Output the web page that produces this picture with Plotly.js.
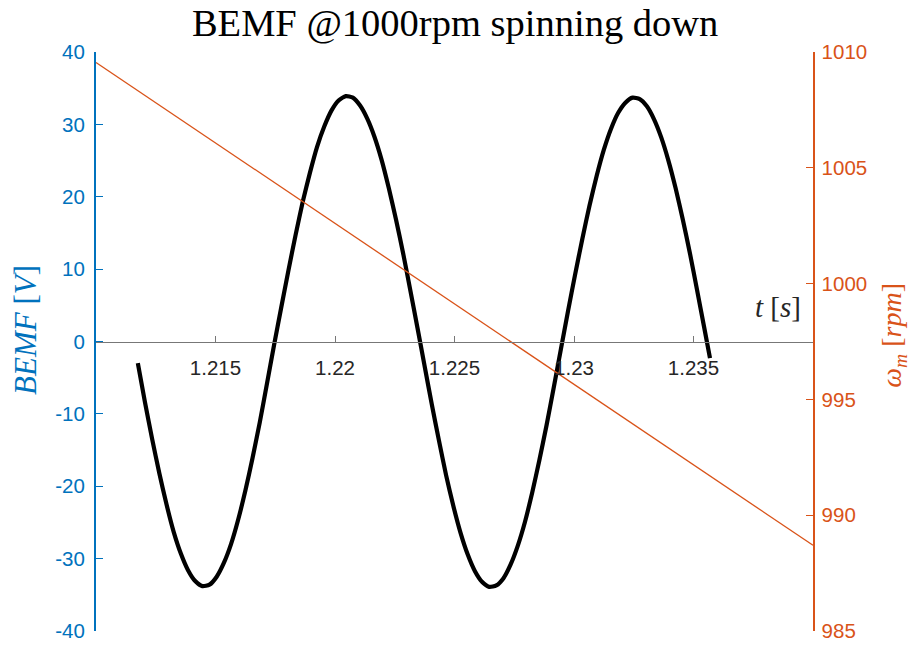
<!DOCTYPE html>
<html>
<head>
<meta charset="utf-8">
<script src="https://cdn.plot.ly/plotly-3.0.1.min.js"></script>
<style>html,body{margin:0;padding:0;background:#fff;}#chart{width:913px;height:650px;}</style>
</head>
<body>
<div id="chart"></div>
<script>
// Time samples [s]
const time = [1.21175,1.21205,1.21235,1.21265,1.21295,1.21325,1.21355,1.21385,1.21415,1.21445,
  1.21475,1.21505,1.21535,1.21565,1.21595,1.21625,1.21655,1.21685,1.21715,1.21745,
  1.21775,1.21805,1.21835,1.21865,1.21895,1.21925,1.21955,1.21985,1.22015,1.22045,
  1.22075,1.22105,1.22135,1.22165,1.22195,1.22225,1.22255,1.22285,1.22315,1.22345,
  1.22375,1.22405,1.22435,1.22465,1.22495,1.22525,1.22555,1.22585,1.22615,1.22645,
  1.22675,1.22705,1.22735,1.22765,1.22795,1.22825,1.22855,1.22885,1.22915,1.22945,
  1.22975,1.23005,1.23035,1.23065,1.23095,1.23125,1.23155,1.23185,1.23215,1.23245,
  1.23275,1.23305,1.23335,1.23365,1.23395,1.23425,1.23455,1.23485,1.23515,1.23545,
  1.23569];
// Back-EMF [V]
const bemf = [-3.0,-8.4,-13.5,-18.2,-22.5,-26.3,-29.3,-31.6,-33.1,-33.8,
  -33.6,-32.5,-30.6,-28.0,-24.6,-20.6,-16.1,-11.2,-5.9,-0.5,
  4.7,9.8,14.7,19.3,23.3,26.9,29.7,31.9,33.3,33.9,
  33.7,32.6,30.8,28.3,25.1,21.2,16.9,12.2,7.1,1.9,
  -3.4,-8.7,-13.7,-18.5,-22.7,-26.4,-29.4,-31.7,-33.2,-33.9,
  -33.7,-32.7,-30.8,-28.2,-24.9,-20.9,-16.4,-11.6,-6.4,-1.1,
  4.2,9.3,14.2,18.8,22.9,26.5,29.4,31.6,33.0,33.7,
  33.5,32.5,30.7,28.2,25.0,21.2,16.9,12.2,7.1,1.9,
  -2.3];
// Mechanical speed [rpm]
const speedTime = [1.21, 1.24];
const speedRpm = [1009.55, 988.7];
// Tick labels
const xTickVals = [1.215, 1.22, 1.225, 1.23, 1.235];
const xTickText = ['1.215', '1.22', '1.225', '1.23', '1.235'];
const yTickVals = [-40, -30, -20, -10, 0, 10, 20, 30, 40];
const yTickText = ['-40', '-30', '-20', '-10', '0', '10', '20', '30', '40'];
const y2TickVals = [985, 990, 995, 1000, 1005, 1010];
const y2TickText = ['985', '990', '995', '1000', '1005', '1010'];

const BLUE = '#0072BD';
const ORANGE = '#D95319';
const SANS = 'Liberation Sans, Arial, sans-serif';
const SERIF = 'Liberation Serif, Times New Roman, serif';

const traces = [
  {x: time, y: bemf, type: 'scatter', mode: 'lines', xaxis: 'x', yaxis: 'y',
   line: {color: '#000000', width: 4.2, shape: 'spline', smoothing: 0.6}},
  {x: speedTime, y: speedRpm, type: 'scatter', mode: 'lines', xaxis: 'x', yaxis: 'y2',
   line: {color: ORANGE, width: 1.3}}
];

const layout = {
  width: 913, height: 650,
  margin: {l: 96, r: 100, t: 52, b: 19, pad: 0},
  paper_bgcolor: '#ffffff', plot_bgcolor: 'rgba(0,0,0,0)',
  showlegend: false,
  title: {text: 'BEMF @1000rpm spinning down', x: 0.4985, xanchor: 'center', y: 0.966, yanchor: 'middle',
          font: {family: SERIF, size: 38.5, color: '#000000'}},
  xaxis: {range: [1.21, 1.24], anchor: 'free', position: 0.5, showline: true, linecolor: '#777777', linewidth: 1.2,
          ticks: 'inside', ticklen: 6, tickwidth: 1, tickcolor: '#777777',
          tickvals: xTickVals, ticktext: xTickText, ticklabelstandoff: 8,
          tickfont: {family: SANS, size: 20.5, color: '#262626'},
          showgrid: false, zeroline: false},
  yaxis: {range: [-40, 40], tickvals: yTickVals, ticktext: yTickText, color: BLUE,
          showline: true, linecolor: BLUE, linewidth: 2,
          ticks: 'inside', ticklen: 7, tickcolor: BLUE, tickfont: {family: SANS, size: 20.5, color: BLUE},
          ticklabelstandoff: 5,
          showgrid: false, zeroline: false},
  yaxis2: {range: [985, 1010], tickvals: y2TickVals, ticktext: y2TickText, color: ORANGE,
           overlaying: 'y', side: 'right', anchor: 'x',
           showline: true, linecolor: ORANGE, linewidth: 1.5,
           ticks: 'inside', ticklen: 7, tickcolor: ORANGE, tickfont: {family: SANS, size: 20.5, color: ORANGE},
           ticklabelstandoff: 3,
           showgrid: false, zeroline: false},
  annotations: [
    {text: '<i>BEMF</i> [<i>V</i>]', xref: 'paper', yref: 'paper', x: 0, y: 0.52, xshift: -70,
     xanchor: 'center', yanchor: 'middle', textangle: -90, showarrow: false,
     font: {family: SERIF, size: 31, color: BLUE}},
    {text: '<i>ω</i><sub><i>m</i></sub> [<i>rpm</i>]', xref: 'paper', yref: 'paper', x: 1, y: 0.51, xshift: 81,
     xanchor: 'center', yanchor: 'middle', textangle: -90, showarrow: false,
     font: {family: SERIF, size: 28, color: ORANGE}},
    {text: '<i>t</i> [<i>s</i>]', xref: 'paper', yref: 'paper', x: 1, y: 0.5, xshift: -35, yshift: 35,
     xanchor: 'center', yanchor: 'middle', showarrow: false,
     font: {family: SERIF, size: 29, color: '#262626'}}
  ]
};

Plotly.newPlot('chart', traces, layout, {displayModeBar: false, staticPlot: true});
</script>
</body>
</html>
